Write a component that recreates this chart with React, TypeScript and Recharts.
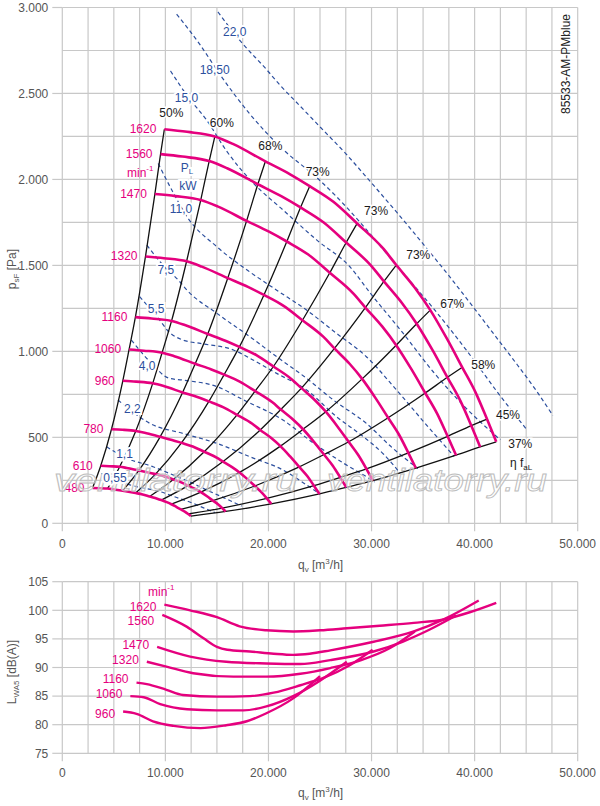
import React from "react";
import { CartesianGrid, ComposedChart, Line, XAxis, YAxis } from "recharts";

// fan curves: [q in 1000 m³/h, p_sF in Pa]
const S480 = [[2.93, 205], [3.59, 204], [4.39, 202], [4.92, 198], [5.84, 189], [6.55, 182], [7.11, 176], [7.79, 168], [8.47, 156], [9.21, 143], [9.6, 135], [10.13, 123], [10.58, 111], [11.05, 96], [11.5, 81], [11.88, 68], [12.21, 54], [12.47, 42]];
const S610 = [[3.73, 335], [4.56, 332], [5.57, 329], [6.25, 322], [7.42, 307], [8.32, 296], [9.04, 286], [9.9, 273], [10.77, 255], [11.71, 234], [12.2, 219], [12.88, 200], [13.44, 181], [14.04, 157], [14.61, 132], [15.1, 111], [15.51, 88], [15.85, 69]];
const S780 = [[4.77, 547], [5.83, 544], [7.13, 537], [7.99, 527], [9.49, 503], [10.64, 485], [11.56, 468], [12.66, 447], [13.77, 416], [14.97, 382], [15.6, 359], [16.47, 327], [17.19, 296], [17.96, 257], [18.68, 217], [19.31, 181], [19.84, 145], [20.27, 113]];
const S960 = [[5.87, 829], [7.17, 824], [8.77, 814], [9.84, 798], [11.67, 761], [13.1, 734], [14.22, 709], [15.59, 676], [16.95, 631], [18.43, 579], [19.2, 543], [20.27, 496], [21.16, 449], [22.1, 389], [22.99, 328], [23.76, 275], [24.41, 219], [24.95, 171]];
const S1060 = [[6.48, 1011], [7.92, 1004], [9.68, 992], [10.86, 972], [12.89, 928], [14.46, 895], [15.7, 865], [17.21, 824], [18.71, 769], [20.35, 705], [21.2, 662], [22.38, 604], [23.36, 547], [24.41, 474], [25.39, 400], [26.24, 335], [26.96, 267], [27.55, 209]];
const S1160 = [[7.09, 1199], [8.66, 1191], [10.6, 1177], [11.89, 1153], [14.11, 1101], [15.82, 1062], [17.18, 1026], [18.83, 978], [20.48, 912], [22.27, 837], [23.2, 786], [24.49, 717], [25.56, 649], [26.71, 562], [27.78, 474], [28.71, 397], [29.5, 317], [30.14, 248]];
const S1320 = [[8.07, 1552], [9.86, 1542], [12.06, 1524], [13.53, 1493], [16.05, 1426], [18.01, 1375], [19.56, 1328], [21.43, 1266], [23.3, 1181], [25.34, 1084], [26.4, 1017], [27.87, 928], [29.09, 840], [30.39, 728], [31.61, 614], [32.67, 515], [33.57, 410], [34.3, 321]];
const S1470 = [[8.98, 1915], [10.98, 1903], [13.43, 1880], [15.06, 1843], [17.88, 1759], [20.05, 1696], [21.78, 1639], [23.86, 1563], [25.95, 1457], [28.22, 1337], [29.4, 1255], [31.03, 1145], [32.39, 1036], [33.85, 898], [35.21, 758], [36.39, 635], [37.38, 506], [38.2, 396]];
const S1560 = [[9.53, 2147], [11.65, 2133], [14.25, 2107], [15.99, 2065], [18.97, 1972], [21.28, 1901], [23.11, 1837], [25.33, 1751], [27.54, 1633], [29.95, 1499], [31.2, 1407], [32.93, 1283], [34.38, 1161], [35.92, 1007], [37.36, 849], [38.62, 712], [39.68, 568], [40.54, 444]];
const S1620 = [[9.9, 2292], [12.1, 2277], [14.8, 2250], [16.6, 2205], [19.7, 2105], [22.1, 2030], [24.0, 1961], [26.3, 1870], [28.6, 1744], [31.1, 1600], [32.4, 1502], [34.2, 1370], [35.7, 1240], [37.3, 1075], [38.8, 907], [40.1, 760], [41.2, 606], [42.1, 474]];

const SPEEDS = [480, 610, 780, 960, 1060, 1160, 1320, 1470, 1560, 1620];
const SPEED_CURVES = [S480, S610, S780, S960, S1060, S1160, S1320, S1470, S1560, S1620];

// efficiency lines run through these points of every fan curve
const EFF_LABELS = ["50%", "60%", "68%", "73%", "73%", "73%", "67%", "58%", "45%", "37%"];
const EFF_INDEX = [0, 2, 4, 6, 8, 10, 12, 14, 16, 17];

// shaft power lines P_L in kW
const PW055 = [[3.8, 290], [5.2, 250], [7.2, 213], [9.5, 184], [11.1, 150], [12.7, 116], [13.7, 90], [14.8, 62]];
const PW11 = [[4.3, 445], [6.2, 380], [8.8, 329], [10.4, 290], [12.2, 245], [14.0, 194], [15.7, 148], [17.4, 100]];
const PW22 = [[5.4, 717], [7.0, 640], [8.5, 581], [11.7, 523], [15.0, 465], [18.2, 387], [21.4, 310], [23.4, 235], [25.0, 170]];
const PW40 = [[6.7, 1066], [8.5, 940], [10.4, 843], [11.7, 833], [15.0, 795], [17.6, 717], [21.4, 601], [24.4, 465], [27.3, 349], [29.5, 271], [30.3, 240]];
const PW55 = [[7.5, 1318], [9.2, 1201], [10.4, 1110], [11.7, 1066], [13.4, 1046], [16.6, 1008], [18.5, 950], [20.8, 872], [23.7, 775], [26.6, 620], [29.2, 504], [31.2, 400], [32.8, 290]];
const PW75 = [[8.2, 1618], [9.8, 1500], [11.4, 1405], [12.1, 1356], [15.0, 1221], [18.2, 1085], [20.8, 969], [23.7, 843], [26.3, 717], [29.5, 581], [32.0, 440], [34.5, 318]];
const PW110 = [[9.3, 2093], [10.7, 1930], [12.1, 1783], [15.0, 1608], [18.0, 1470], [20.8, 1356], [23.7, 1240], [26.6, 1105], [29.5, 969], [32.5, 770], [35.5, 560], [38.0, 390]];
const PW150 = [[10.5, 2631], [12.2, 2480], [14.0, 2345], [16.0, 2160], [18.5, 1980], [21.4, 1823], [24.7, 1647], [27.9, 1492], [29.9, 1337], [33.0, 1110], [36.0, 880], [39.0, 680], [42.5, 485]];
const PW185 = [[11.1, 2961], [13.4, 2780], [15.3, 2610], [18.2, 2380], [21.4, 2175], [24.7, 2010], [26.6, 1900], [28.9, 1750], [32.4, 1502], [36.0, 1250], [39.2, 1007], [42.5, 740], [45.1, 542]];
const PW220 = [[15.1, 2974], [17.2, 2810], [19.8, 2640], [21.1, 2550], [23.1, 2425], [25.0, 2306], [27.5, 2150], [29.9, 1986], [32.5, 1805], [35.0, 1625], [37.5, 1440], [39.9, 1255], [42.0, 1090], [44.1, 925], [46.0, 770], [47.6, 626]];
const POWER_LINES = [PW055, PW11, PW22, PW40, PW55, PW75, PW110, PW150, PW185, PW220];

// sound power L_WA5 in dB(A)
const LW960 = [[5.9, 82.3], [7.2, 81.9], [8.8, 80.6], [10.8, 79.8], [13.4, 79.4], [15.9, 79.9], [17.9, 80.6], [19.8, 82.0], [22.4, 84.6], [25.0, 88.5]];
const LW1060 = [[6.6, 85.0], [7.9, 84.8], [9.5, 83.6], [12.1, 82.7], [15.0, 82.5], [17.6, 82.5], [19.8, 83.2], [22.4, 85.0], [25.0, 87.7], [27.6, 91.0]];
const LW1160 = [[7.2, 87.35], [8.2, 87.1], [10.1, 86.1], [11.7, 85.2], [15.0, 84.9], [18.2, 85.0], [20.5, 85.6], [23.1, 86.9], [25.5, 88.3], [27.8, 90.3], [30.1, 93.1]];
const LW1320 = [[8.2, 91.0], [10.1, 90.15], [12.7, 89.0], [16.6, 88.4], [19.8, 88.4], [23.1, 88.9], [26.0, 89.9], [29.0, 91.3], [31.8, 93.4], [34.2, 96.3]];
const LW1470 = [[9.2, 93.6], [12.4, 91.9], [15.9, 91.0], [19.8, 90.7], [23.1, 90.6], [26.0, 91.3], [30.2, 92.8], [33.0, 94.5], [35.6, 96.6], [38.2, 99.1]];
const LW1560 = [[9.7, 99.2], [12.1, 97.1], [13.7, 95.1], [15.0, 93.6], [16.0, 93.1], [18.2, 92.8], [20.5, 92.4], [22.4, 92.2], [24.0, 92.4], [26.0, 93.0], [30.2, 94.5], [34.1, 96.3], [37.0, 98.4], [40.4, 101.7]];
const LW1620 = [[9.9, 101.0], [12.4, 100.0], [15.0, 98.8], [17.2, 97.2], [19.8, 96.5], [22.4, 96.3], [25.0, 96.5], [27.6, 96.85], [30.8, 97.3], [34.1, 97.8], [37.0, 98.4], [39.6, 99.7], [42.1, 101.3]];
const LW_SPEEDS = [960, 1060, 1160, 1320, 1470, 1560, 1620];
const LW_CURVES = [LW960, LW1060, LW1160, LW1320, LW1470, LW1560, LW1620];

const Q_TICKS = [0, 10, 20, 30, 40, 50];
const Q_GRID = [0, 2.5, 5, 7.5, 10, 12.5, 15, 17.5, 20, 22.5, 25, 27.5, 30, 32.5, 35, 37.5, 40, 42.5, 45, 47.5, 50];
const P_TICKS = [0, 500, 1000, 1500, 2000, 2500, 3000];
const P_GRID = [0, 250, 500, 750, 1000, 1250, 1500, 1750, 2000, 2250, 2500, 2750, 3000];
const LW_TICKS = [75, 80, 85, 90, 95, 100, 105];

const MAGENTA = "#e5007e";
const BLUE = "#2c4f9e";
const GRID = "#c8c8c8";
const AXIS_TEXT = "#555";
const FONT = "'Liberation Sans', Arial, Helvetica, sans-serif";

// label placement (px) relative to line ends
const EFF_OFFSET = [[7, -16], [7, -13], [5, -15], [8, -14], [19, -12], [22, -10], [22, -6], [21, -2], [21, -4], [24, 2]];
const LW_LABEL_DY: Record<number, number> = { 960: 2, 1060: -2, 1160: -4, 1320: -2, 1470: -2, 1560: 6, 1620: 2 };

const pts = (a: number[][]) => a.map(([q, v]) => ({ q, v }));
const fmtQ = (v: number) => (v === 0 ? "0" : `${v}.000`);
const fmtP = (v: number) => (v >= 1000 ? `${Math.floor(v / 1000)}.${String(v % 1000).padStart(3, "0")}` : `${v}`);

const tickStyle = { fill: AXIS_TEXT, fontSize: 12, fontFamily: FONT };

function speedDot(text: string, dx: number, dy: number) {
  return (props: any) => {
    const { cx, cy, index } = props;
    if (index !== 0 || cx == null) return <g key={`s${index}`} />;
    return (
      <text key={`s${index}`} x={cx + dx} y={cy + dy} textAnchor="end" dominantBaseline="central"
        fontSize={12} fontFamily={FONT} fill={MAGENTA}>{text}</text>
    );
  };
}

function effDot(text: string, dx: number, dy: number, last: number) {
  return (props: any) => {
    const { cx, cy, index } = props;
    if (index !== last || cx == null) return <g key={`e${index}`} />;
    return (
      <text key={`e${index}`} x={cx + dx} y={cy + dy} textAnchor="middle" dominantBaseline="central"
        fontSize={12} fontFamily={FONT} fill="#1a1a1a" stroke="#fff" strokeWidth={3} paintOrder="stroke">{text}</text>
    );
  };
}

const POWER_TEXT = [
  { t: "0,55", x: 115, y: 478 }, { t: "1,1", x: 124.5, y: 454 }, { t: "2,2", x: 132.3, y: 409 },
  { t: "4,0", x: 147.2, y: 366 }, { t: "5,5", x: 156.2, y: 309 }, { t: "7,5", x: 165.8, y: 270 },
  { t: "11,0", x: 181, y: 209 }, { t: "15,0", x: 186.5, y: 98 }, { t: "18,50", x: 214.7, y: 70 },
  { t: "22,0", x: 234.7, y: 32 },
];

export default function App() {
  const effLines = EFF_INDEX.map((i) => SPEED_CURVES.map((c) => c[i]));
  const halo = { stroke: "#fff", strokeWidth: 4, paintOrder: "stroke" as const };

  return (
    <div style={{ position: "absolute", left: 0, top: 0, width: 600, height: 806, background: "#fff", fontFamily: FONT }}>
      <div style={{ position: "absolute", left: 0, top: 0 }}>
        <ComposedChart width={600} height={560} margin={{ top: 7.5, right: 22.3, bottom: 6.7, left: 0 }}>
          <CartesianGrid stroke={GRID} strokeWidth={1.2} verticalValues={Q_GRID} horizontalValues={P_GRID} />
          <XAxis type="number" dataKey="q" domain={[0, 50]} ticks={Q_TICKS} interval={0} tickFormatter={fmtQ}
            height={30} axisLine={false} tickLine={{ stroke: GRID, strokeWidth: 1.2 }} tickSize={8} tickMargin={8} tick={tickStyle} />
          <YAxis type="number" domain={[0, 3000]} ticks={P_TICKS} interval={0} tickFormatter={fmtP}
            width={62.3} axisLine={false} tickLine={{ stroke: GRID, strokeWidth: 1.2 }} tickSize={10} tickMargin={4} tick={tickStyle} />
          {POWER_LINES.map((d, i) => (
            <Line key={`pw${i}`} data={pts(d)} dataKey="v" type="monotone" stroke={BLUE} strokeWidth={1.2}
              strokeDasharray="4 3" dot={false} activeDot={false} isAnimationActive={false} />
          ))}
          {effLines.map((d, i) => (
            <Line key={`ef${i}`} data={pts(d)} dataKey="v" type="monotone" stroke="#111" strokeWidth={1.3}
              dot={effDot(EFF_LABELS[i], EFF_OFFSET[i][0], EFF_OFFSET[i][1], d.length - 1)} activeDot={false} isAnimationActive={false} />
          ))}
          {SPEED_CURVES.map((d, i) => (
            <Line key={`sp${i}`} data={pts(d)} dataKey="v" type="monotone" stroke={MAGENTA} strokeWidth={2.6}
              dot={speedDot(String(SPEEDS[i]), -8, 0)} activeDot={false} isAnimationActive={false} />
          ))}
        </ComposedChart>
      </div>

      <div style={{ position: "absolute", left: 0, top: 560 }}>
        <ComposedChart width={600} height={246} margin={{ top: 21.7, right: 22.3, bottom: 22.7, left: 0 }}>
          <CartesianGrid stroke={GRID} strokeWidth={1.2} verticalValues={Q_GRID} horizontalValues={LW_TICKS} />
          <XAxis type="number" dataKey="q" domain={[0, 50]} ticks={Q_TICKS} interval={0} tickFormatter={fmtQ}
            height={30} axisLine={false} tickLine={{ stroke: GRID, strokeWidth: 1.2 }} tickSize={8} tickMargin={7} tick={tickStyle} />
          <YAxis type="number" domain={[75, 105]} ticks={LW_TICKS} interval={0}
            width={62.3} axisLine={false} tickLine={{ stroke: GRID, strokeWidth: 1.2 }} tickSize={10} tickMargin={4} tick={tickStyle} />
          {LW_CURVES.map((d, i) => (
            <Line key={`lw${i}`} data={pts(d)} dataKey="v" type="monotone" stroke={MAGENTA} strokeWidth={2.4}
              dot={speedDot(String(LW_SPEEDS[i]), -8, LW_LABEL_DY[LW_SPEEDS[i]])} activeDot={false} isAnimationActive={false} />
          ))}
        </ComposedChart>
      </div>

      <svg width={600} height={806} style={{ position: "absolute", left: 0, top: 0, pointerEvents: "none" }}
        fontFamily={FONT}>
        {/* watermark */}
        <g fontSize={31} fontStyle="italic" fill="#fff" fillOpacity={0.45} stroke="#bdbdbd" strokeWidth={0.9}>
          <text x={54} y={491} textLength={244} lengthAdjust="spacingAndGlyphs">ventilatorry.ru</text>
          <text x={327} y={491} textLength={220} lengthAdjust="spacingAndGlyphs">ventilatorry.ru</text>
        </g>

        {/* power line labels */}
        <g fontSize={12} fill={BLUE} textAnchor="middle" dominantBaseline="central">
          {POWER_TEXT.map((p) => (
            <text key={p.t} x={p.x} y={p.y} {...halo}>{p.t}</text>
          ))}
          <text x={187} y={168} {...halo}>P<tspan fontSize={8} dy={3}>L</tspan></text>
          <text x={188} y={186} {...halo}>kW</text>
        </g>

        {/* unit labels */}
        <text x={127} y={173} fontSize={12} fill={MAGENTA} dominantBaseline="central">min<tspan fontSize={8} dy={-5}>-1</tspan></text>
        <text x={148} y={592} fontSize={12} fill={MAGENTA} dominantBaseline="central">min<tspan fontSize={8} dy={-5}>-1</tspan></text>
        <text x={510} y={463} fontSize={12} fill="#1a1a1a" dominantBaseline="central">η f<tspan fontSize={8} dy={4}>aL</tspan></text>

        {/* axis titles */}
        <text x={298} y={569} fontSize={12} fill={AXIS_TEXT}>q<tspan fontSize={8} dy={3}>v</tspan><tspan dy={-3}> [m</tspan><tspan fontSize={8} dy={-5}>3</tspan><tspan dy={5}>/h]</tspan></text>
        <text x={298} y={797} fontSize={12} fill={AXIS_TEXT}>q<tspan fontSize={8} dy={3}>v</tspan><tspan dy={-3}> [m</tspan><tspan fontSize={8} dy={-5}>3</tspan><tspan dy={5}>/h]</tspan></text>
        <text x={16} y={269} fontSize={12} fill={AXIS_TEXT} textAnchor="middle" transform="rotate(-90 16 269)">p<tspan fontSize={8} dy={3}>sF</tspan><tspan dy={-3}> [Pa]</tspan></text>
        <text x={16} y={672} fontSize={12} fill={AXIS_TEXT} textAnchor="middle" transform="rotate(-90 16 672)">L<tspan fontSize={8} dy={3}>WA5</tspan><tspan dy={-3}> [dB(A)]</tspan></text>

        {/* drawing id */}
        <text x={566} y={64} fontSize={12} fill="#222" textAnchor="middle" dominantBaseline="central" transform="rotate(-90 566 64)">85533-AM-PMblue</text>
      </svg>
    </div>
  );
}
